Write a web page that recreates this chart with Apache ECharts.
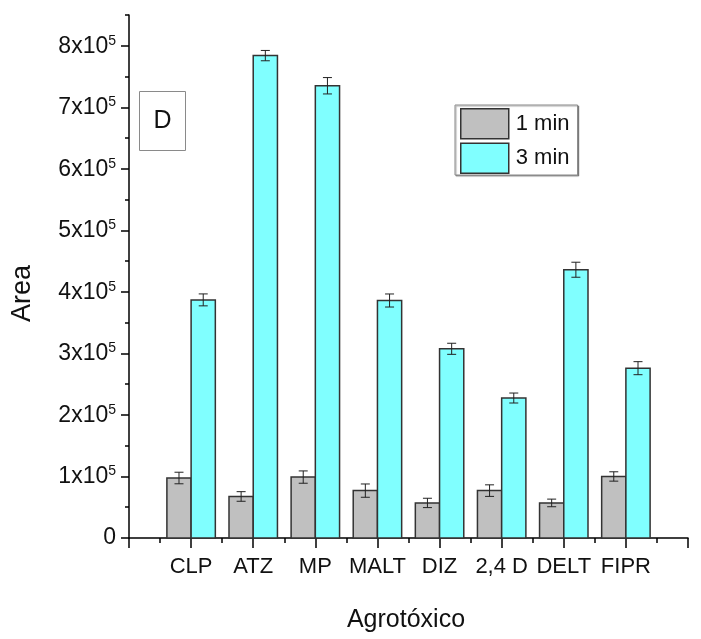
<!DOCTYPE html>
<html>
<head>
<meta charset="utf-8">
<style>
  html, body { margin: 0; padding: 0; background: #fff; }
  #chart { width: 701px; height: 639px; }
</style>
<script src="https://cdn.jsdelivr.net/npm/echarts@6/dist/echarts.min.js"></script>
</head>
<body>
<div id="chart"></div>
<script>
// Pesticide peak areas after 1 and 3 min extraction
const categories = ['CLP', 'ATZ', 'MP', 'MALT', 'DIZ', '2,4 D', 'DELT', 'FIPR'];
const area1min = [97500, 67500, 99000, 77000, 57000, 77000, 57000, 100000];
const err1min  = [9400, 7800, 10000, 10800, 7600, 9400, 6200, 7600];
const area3min = [387000, 784000, 735000, 386000, 307500, 227500, 436000, 276000];
const err3min  = [9700, 8400, 13300, 10600, 9000, 8100, 12200, 10600];
const yMajorTicks = [0, 100000, 200000, 300000, 400000, 500000, 600000, 700000, 800000];

const GREY = '#c0c0c0';
const CYAN = '#80ffff';
const EDGE = '#333333';
const BAR_FRAC = 0.39;
const LABEL_FONT = '"Liberation Sans", Arial, sans-serif';

// bars with symmetric error bars, placed left (-1) or right (+1) of each category centre
function barSeries(name, values, errors, side, color) {
  return {
    type: 'custom',
    name: name,
    xAxisIndex: 0,
    yAxisIndex: 0,
    itemStyle: { color: color, borderColor: EDGE, borderWidth: 1 },
    data: values.map((v, i) => [i + 1, v, errors[i]]),
    encode: { x: 0, y: 1 },
    renderItem: function (params, api) {
      const x = api.value(0), y = api.value(1), e = api.value(2);
      const w = api.size([BAR_FRAC, 0])[0];
      const base = api.coord([x, 0]);
      const top = api.coord([x, y]);
      const left = side < 0 ? base[0] - w : base[0];
      const cx = left + w / 2;
      const hi = api.coord([x, y + e])[1];
      const lo = api.coord([x, y - e])[1];
      const cap = 4.5;
      const errStyle = { stroke: '#222', lineWidth: 1 };
      return {
        type: 'group',
        children: [
          { type: 'rect', shape: { x: left, y: top[1], width: w, height: base[1] - top[1] },
            style: { fill: color, stroke: EDGE, lineWidth: 1.5 } },
          { type: 'line', shape: { x1: cx, y1: hi, x2: cx, y2: lo }, style: errStyle },
          { type: 'line', shape: { x1: cx - cap, y1: hi, x2: cx + cap, y2: hi }, style: errStyle },
          { type: 'line', shape: { x1: cx - cap, y1: lo, x2: cx + cap, y2: lo }, style: errStyle }
        ]
      };
    }
  };
}

const chart = echarts.init(document.getElementById('chart'), null, { renderer: 'canvas' });

chart.setOption({
  animation: false,
  backgroundColor: '#ffffff',
  grid: { left: 129, right: 13, top: 15, bottom: 101 },
  legend: {
    orient: 'vertical',
    left: 455,
    top: 105,
    padding: [3, 8, 1, 5],
    itemWidth: 48,
    itemHeight: 30,
    itemGap: 3,
    icon: 'rect',
    borderColor: '#8a8a8a',
    borderWidth: 1,
    shadowColor: 'rgba(0,0,0,0.35)',
    shadowOffsetX: 1,
    shadowOffsetY: 1,
    shadowBlur: 1,
    backgroundColor: '#fff',
    selectedMode: false,
    textStyle: { fontFamily: LABEL_FONT, fontSize: 22, color: '#111', padding: [0, 0, 0, 2] },
    data: [
      { name: '1 min', itemStyle: { color: GREY, borderColor: EDGE, borderWidth: 1.5 } },
      { name: '3 min', itemStyle: { color: CYAN, borderColor: EDGE, borderWidth: 1.5 } }
    ]
  },
  xAxis: {
    type: 'value',
    min: 0,
    max: 9,
    interval: 1,
    axisLine: { show: true, lineStyle: { color: '#000', width: 1.5 } },
    axisTick: { show: true, length: 10, lineStyle: { color: '#000', width: 1.5 } },
    minorTick: { show: true, splitNumber: 2, length: 5, lineStyle: { color: '#000', width: 1.5 } },
    splitLine: { show: false },
    axisLabel: {
      margin: 18,
      fontFamily: LABEL_FONT,
      fontSize: 22,
      color: '#111',
      formatter: function (v) {
        return (v >= 1 && v <= categories.length) ? categories[v - 1] : '';
      }
    }
  },
  yAxis: [
    {
      type: 'value',
      position: 'left',
      min: 0,
      max: 850000,
      interval: 50000,
      axisLine: { show: true, lineStyle: { color: '#000', width: 1.5 } },
      axisTick: { show: true, length: 4, lineStyle: { color: '#000', width: 1.5 } },
      splitLine: { show: false },
      axisLabel: {
        margin: 13,
        color: '#111',
        formatter: function (v) {
          if (v % 100000 !== 0) return '';
          if (v === 0) return '{z|0}';
          return '{a|' + (v / 100000) + 'x10}{b|5}';
        },
        rich: {
          z: { fontFamily: LABEL_FONT, fontSize: 23, lineHeight: 24, color: '#111' },
          a: { fontFamily: LABEL_FONT, fontSize: 23, lineHeight: 24, verticalAlign: 'bottom', color: '#111' },
          b: { fontFamily: LABEL_FONT, fontSize: 14, lineHeight: 14, verticalAlign: 'top', padding: [0, 0, 16, 0], color: '#111' }
        }
      }
    },
    {
      type: 'value',
      position: 'left',
      min: 0,
      max: 850000,
      interval: 100000,
      axisLine: { show: false },
      axisTick: { show: true, length: 8, customValues: yMajorTicks, lineStyle: { color: '#000', width: 1.5 } },
      axisLabel: { show: false },
      splitLine: { show: false }
    }
  ],
  graphic: [
    {
      type: 'text',
      left: 25.5 - 16, top: 297 - 32,
      style: { text: 'Area', fontFamily: LABEL_FONT, fontSize: 27, fill: '#111' },
      rotation: Math.PI / 2,
      originX: 0, originY: 0
    },
    {
      type: 'group',
      left: 139, top: 91,
      children: [
        { type: 'rect', shape: { x: 0.5, y: 0.5, width: 46, height: 59 },
          style: { fill: '#fff', stroke: '#8a8a8a', lineWidth: 1 } },
        { type: 'text', x: 23.5, y: 30, style: { text: 'D', fontFamily: LABEL_FONT, fontSize: 25, fill: '#111', align: 'center', verticalAlign: 'middle' } }
      ]
    },
    {
      type: 'text',
      x: 406, y: 620,
      style: { text: 'Agrotóxico', fontFamily: LABEL_FONT, fontSize: 25, fill: '#111', align: 'center', verticalAlign: 'middle' }
    }
  ],
  series: [
    barSeries('1 min', area1min, err1min, -1, GREY),
    barSeries('3 min', area3min, err3min, 1, CYAN)
  ]
});
</script>
</body>
</html>
